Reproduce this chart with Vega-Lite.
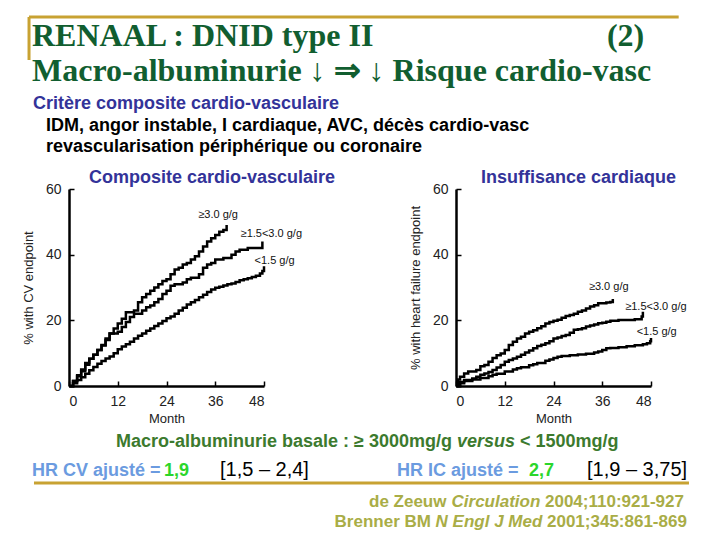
{
  "$schema": "https://vega.github.io/schema/vega-lite/v6.json",
  "padding": {"left": 22, "top": 0, "right": 0, "bottom": 0},
  "background": "white",
  "columns": 2,
  "bounds": "flush",
  "align": "each",
  "spacing": {"row": 29, "column": 192},
  "config": {
    "view": {"stroke": null},
    "axis": {
      "grid": false,
      "domainColor": "#000",
      "domainWidth": 2.5,
      "tickColor": "#000",
      "tickWidth": 1.5,
      "tickSize": -5,
      "labelFont": "Liberation Sans",
      "labelFontSize": 14,
      "labelColor": "#222",
      "labelPadding": 13,
      "titleFont": "Liberation Sans",
      "titleFontSize": 13,
      "titleFontWeight": "normal",
      "titleColor": "#222"
    },
    "axisY": {"titlePadding": 10},
    "axisX": {"titlePadding": 4}
  },
  "datasets": {
    "headerRules": [
      {"x": 4.17, "x2": 94.4, "y": 10.6, "y2": 10.6},
      {"x": 4.17, "x2": 4.17, "y": 10.6, "y2": 37.5}
    ],
    "headerLeft": [
      {"role": "title", "x": 4.58, "y": 28.75, "text": "RENAAL : DNID type II"},
      {"role": "title", "x": 4.58, "y": 50.6, "text": "Macro-albuminurie ↓ ⇒ ↓ Risque cardio-vasc"},
      {"role": "heading", "x": 4.72, "y": 68.1, "text": "Critère composite cardio-vasculaire"},
      {"role": "body", "x": 6.53, "y": 81.9, "text": "IDM, angor instable, I cardiaque, AVC, décès cardio-vasc"},
      {"role": "body", "x": 6.53, "y": 95, "text": "revascularisation périphérique ou coronaire"}
    ],
    "headerRight": [
      {"role": "title", "x": 84.44, "y": 28.75, "text": "(2)"}
    ],
    "footerRules": [
      {"x": 4.86, "x2": 95.83, "y": 54.4, "y2": 54.4}
    ],
    "footerLeft": [
      {"role": "macro", "x": 16.25, "y": 25.6, "text": "Macro-albuminurie basale : ≥ 3000mg/g"},
      {"role": "macroIt", "x": 63.61, "y": 25.6, "text": "versus"},
      {"role": "macro", "x": 72.36, "y": 25.6, "text": "< 1500mg/g"},
      {"role": "hrBlue", "x": 4.58, "y": 48.8, "text": "HR CV ajusté ="},
      {"role": "hrGreen", "x": 22.92, "y": 48.8, "text": "1,9"},
      {"role": "hrBlack", "x": 30.69, "y": 48.8, "text": "[1,5 – 2,4]"}
    ],
    "footerRight": [
      {"role": "hrBlue", "x": 55.28, "y": 48.8, "text": "HR IC ajusté ="},
      {"role": "hrGreen", "x": 73.61, "y": 48.8, "text": "2,7"},
      {"role": "hrBlack", "x": 81.67, "y": 48.8, "text": "[1,9 – 3,75]"},
      {"role": "cite", "x": 51.39, "y": 73.6, "text": "de Zeeuw"},
      {"role": "citeIt", "x": 62.85, "y": 73.6, "text": "Circulation"},
      {"role": "cite", "x": 75.83, "y": 73.6, "text": "2004;110:921-927"},
      {"role": "cite", "x": 46.61, "y": 89.6, "text": "Brenner BM"},
      {"role": "citeIt", "x": 60.64, "y": 89.6, "text": "N Engl J Med"},
      {"role": "cite", "x": 76.11, "y": 89.6, "text": "2001;345:861-869"}
    ],
    "cv": [
      {"group": "g3", "month": 0, "pct": 0}, {"group": "g3", "month": 1, "pct": 1.5}, {"group": "g3", "month": 2, "pct": 3.3}, {"group": "g3", "month": 3, "pct": 5}, {"group": "g3", "month": 4, "pct": 7}, {"group": "g3", "month": 5, "pct": 8.3}, {"group": "g3", "month": 6, "pct": 9.5}, {"group": "g3", "month": 7, "pct": 11}, {"group": "g3", "month": 8, "pct": 12.3}, {"group": "g3", "month": 9, "pct": 14.5}, {"group": "g3", "month": 10, "pct": 16}, {"group": "g3", "month": 11, "pct": 17.5}, {"group": "g3", "month": 12, "pct": 19}, {"group": "g3", "month": 13, "pct": 20.5}, {"group": "g3", "month": 14, "pct": 22.5}, {"group": "g3", "month": 16, "pct": 23}, {"group": "g3", "month": 17, "pct": 25.5}, {"group": "g3", "month": 18, "pct": 27}, {"group": "g3", "month": 19, "pct": 28}, {"group": "g3", "month": 20, "pct": 29}, {"group": "g3", "month": 21, "pct": 30}, {"group": "g3", "month": 22, "pct": 31}, {"group": "g3", "month": 23, "pct": 32}, {"group": "g3", "month": 24, "pct": 32.5}, {"group": "g3", "month": 25, "pct": 34}, {"group": "g3", "month": 26, "pct": 35.5}, {"group": "g3", "month": 27, "pct": 36}, {"group": "g3", "month": 28, "pct": 37}, {"group": "g3", "month": 29, "pct": 37.5}, {"group": "g3", "month": 30, "pct": 38.5}, {"group": "g3", "month": 31, "pct": 39.5}, {"group": "g3", "month": 32, "pct": 41}, {"group": "g3", "month": 33, "pct": 42.5}, {"group": "g3", "month": 34, "pct": 44}, {"group": "g3", "month": 35, "pct": 45}, {"group": "g3", "month": 36, "pct": 46}, {"group": "g3", "month": 37, "pct": 47}, {"group": "g3", "month": 38, "pct": 47.5}, {"group": "g3", "month": 38.8, "pct": 49},
      {"group": "g15", "month": 0, "pct": 0}, {"group": "g15", "month": 1, "pct": 1.5}, {"group": "g15", "month": 2, "pct": 3}, {"group": "g15", "month": 3, "pct": 4.5}, {"group": "g15", "month": 4, "pct": 6.5}, {"group": "g15", "month": 5, "pct": 8.3}, {"group": "g15", "month": 6, "pct": 9.5}, {"group": "g15", "month": 7, "pct": 11}, {"group": "g15", "month": 8, "pct": 12.5}, {"group": "g15", "month": 9, "pct": 14}, {"group": "g15", "month": 10, "pct": 16}, {"group": "g15", "month": 12, "pct": 16.5}, {"group": "g15", "month": 13, "pct": 18}, {"group": "g15", "month": 14, "pct": 19.5}, {"group": "g15", "month": 15, "pct": 21}, {"group": "g15", "month": 16, "pct": 22}, {"group": "g15", "month": 18, "pct": 23}, {"group": "g15", "month": 19, "pct": 24}, {"group": "g15", "month": 20, "pct": 24.5}, {"group": "g15", "month": 21, "pct": 25.5}, {"group": "g15", "month": 22, "pct": 26.5}, {"group": "g15", "month": 23, "pct": 28}, {"group": "g15", "month": 24, "pct": 29}, {"group": "g15", "month": 25, "pct": 30.5}, {"group": "g15", "month": 26, "pct": 31}, {"group": "g15", "month": 28, "pct": 31.5}, {"group": "g15", "month": 29, "pct": 32.5}, {"group": "g15", "month": 30, "pct": 33}, {"group": "g15", "month": 32, "pct": 34}, {"group": "g15", "month": 33, "pct": 36}, {"group": "g15", "month": 34, "pct": 37}, {"group": "g15", "month": 35, "pct": 37.5}, {"group": "g15", "month": 36, "pct": 38.5}, {"group": "g15", "month": 38, "pct": 39}, {"group": "g15", "month": 40, "pct": 40}, {"group": "g15", "month": 41, "pct": 41}, {"group": "g15", "month": 42, "pct": 41.5}, {"group": "g15", "month": 44, "pct": 42}, {"group": "g15", "month": 47.6, "pct": 44},
      {"group": "lt15", "month": 0, "pct": 0}, {"group": "lt15", "month": 1, "pct": 0.8}, {"group": "lt15", "month": 2, "pct": 1.8}, {"group": "lt15", "month": 3, "pct": 2.7}, {"group": "lt15", "month": 4, "pct": 3.7}, {"group": "lt15", "month": 5, "pct": 4.8}, {"group": "lt15", "month": 6, "pct": 5.8}, {"group": "lt15", "month": 7, "pct": 6.8}, {"group": "lt15", "month": 8, "pct": 7.6}, {"group": "lt15", "month": 9, "pct": 8.4}, {"group": "lt15", "month": 10, "pct": 9}, {"group": "lt15", "month": 11, "pct": 10}, {"group": "lt15", "month": 12, "pct": 11.2}, {"group": "lt15", "month": 13, "pct": 12}, {"group": "lt15", "month": 14, "pct": 12.7}, {"group": "lt15", "month": 15, "pct": 13.5}, {"group": "lt15", "month": 16, "pct": 14.5}, {"group": "lt15", "month": 17, "pct": 15.3}, {"group": "lt15", "month": 18, "pct": 16}, {"group": "lt15", "month": 19, "pct": 16.8}, {"group": "lt15", "month": 20, "pct": 17.5}, {"group": "lt15", "month": 21, "pct": 18.3}, {"group": "lt15", "month": 22, "pct": 19}, {"group": "lt15", "month": 23, "pct": 19.8}, {"group": "lt15", "month": 24, "pct": 20.6}, {"group": "lt15", "month": 25, "pct": 21.2}, {"group": "lt15", "month": 26, "pct": 22}, {"group": "lt15", "month": 27, "pct": 23}, {"group": "lt15", "month": 28, "pct": 23.8}, {"group": "lt15", "month": 29, "pct": 24.8}, {"group": "lt15", "month": 30, "pct": 25.5}, {"group": "lt15", "month": 31, "pct": 26.2}, {"group": "lt15", "month": 32, "pct": 27}, {"group": "lt15", "month": 33, "pct": 27.8}, {"group": "lt15", "month": 34, "pct": 28.6}, {"group": "lt15", "month": 35, "pct": 29.4}, {"group": "lt15", "month": 36, "pct": 29.9}, {"group": "lt15", "month": 37, "pct": 30.2}, {"group": "lt15", "month": 38, "pct": 30.6}, {"group": "lt15", "month": 39, "pct": 31}, {"group": "lt15", "month": 40, "pct": 31.2}, {"group": "lt15", "month": 41, "pct": 31.7}, {"group": "lt15", "month": 42, "pct": 32.2}, {"group": "lt15", "month": 43, "pct": 32.5}, {"group": "lt15", "month": 44, "pct": 32.8}, {"group": "lt15", "month": 45, "pct": 33.2}, {"group": "lt15", "month": 46, "pct": 33.6}, {"group": "lt15", "month": 47, "pct": 34.3}, {"group": "lt15", "month": 47.6, "pct": 35}, {"group": "lt15", "month": 48, "pct": 36.5}
    ],
    "hf": [
      {"group": "g3", "month": 0, "pct": 0}, {"group": "g3", "month": 0.5, "pct": 2}, {"group": "g3", "month": 1, "pct": 2.8}, {"group": "g3", "month": 2, "pct": 3.8}, {"group": "g3", "month": 3, "pct": 4.4}, {"group": "g3", "month": 5, "pct": 4.9}, {"group": "g3", "month": 6, "pct": 6}, {"group": "g3", "month": 7, "pct": 6.4}, {"group": "g3", "month": 8, "pct": 7.4}, {"group": "g3", "month": 9, "pct": 8.5}, {"group": "g3", "month": 10, "pct": 9.4}, {"group": "g3", "month": 11, "pct": 9.9}, {"group": "g3", "month": 12, "pct": 11}, {"group": "g3", "month": 13, "pct": 12.5}, {"group": "g3", "month": 14, "pct": 13.5}, {"group": "g3", "month": 15, "pct": 14.5}, {"group": "g3", "month": 16, "pct": 15}, {"group": "g3", "month": 17, "pct": 16}, {"group": "g3", "month": 18, "pct": 16.5}, {"group": "g3", "month": 19, "pct": 17}, {"group": "g3", "month": 20, "pct": 17.6}, {"group": "g3", "month": 21, "pct": 18.2}, {"group": "g3", "month": 22, "pct": 19}, {"group": "g3", "month": 23, "pct": 19.5}, {"group": "g3", "month": 24, "pct": 19.9}, {"group": "g3", "month": 25, "pct": 20.2}, {"group": "g3", "month": 26, "pct": 20.8}, {"group": "g3", "month": 27, "pct": 21.3}, {"group": "g3", "month": 28, "pct": 21.6}, {"group": "g3", "month": 29, "pct": 22}, {"group": "g3", "month": 30, "pct": 22.6}, {"group": "g3", "month": 31, "pct": 23}, {"group": "g3", "month": 32, "pct": 23.6}, {"group": "g3", "month": 33, "pct": 24.2}, {"group": "g3", "month": 34, "pct": 24.6}, {"group": "g3", "month": 35, "pct": 25.2}, {"group": "g3", "month": 37, "pct": 25.4}, {"group": "g3", "month": 38, "pct": 25.6}, {"group": "g3", "month": 38.6, "pct": 26.5},
      {"group": "g15", "month": 0, "pct": 0}, {"group": "g15", "month": 1, "pct": 1.2}, {"group": "g15", "month": 2, "pct": 1.8}, {"group": "g15", "month": 4, "pct": 2.3}, {"group": "g15", "month": 5, "pct": 2.8}, {"group": "g15", "month": 6, "pct": 3.4}, {"group": "g15", "month": 7, "pct": 3.8}, {"group": "g15", "month": 8, "pct": 4.3}, {"group": "g15", "month": 9, "pct": 4.9}, {"group": "g15", "month": 10, "pct": 5.6}, {"group": "g15", "month": 11, "pct": 6.4}, {"group": "g15", "month": 12, "pct": 7.4}, {"group": "g15", "month": 13, "pct": 7.9}, {"group": "g15", "month": 14, "pct": 8.4}, {"group": "g15", "month": 15, "pct": 8.9}, {"group": "g15", "month": 16, "pct": 9.5}, {"group": "g15", "month": 17, "pct": 10.2}, {"group": "g15", "month": 18, "pct": 10.8}, {"group": "g15", "month": 19, "pct": 11.5}, {"group": "g15", "month": 20, "pct": 12.2}, {"group": "g15", "month": 21, "pct": 12.6}, {"group": "g15", "month": 22, "pct": 13}, {"group": "g15", "month": 23, "pct": 13.6}, {"group": "g15", "month": 24, "pct": 14.5}, {"group": "g15", "month": 25, "pct": 14.8}, {"group": "g15", "month": 26, "pct": 15.2}, {"group": "g15", "month": 27, "pct": 15.5}, {"group": "g15", "month": 28, "pct": 16.2}, {"group": "g15", "month": 29, "pct": 17.1}, {"group": "g15", "month": 30, "pct": 17.3}, {"group": "g15", "month": 31, "pct": 17.6}, {"group": "g15", "month": 32, "pct": 18.1}, {"group": "g15", "month": 33, "pct": 18.4}, {"group": "g15", "month": 34, "pct": 18.7}, {"group": "g15", "month": 35, "pct": 19.1}, {"group": "g15", "month": 36, "pct": 19.3}, {"group": "g15", "month": 37, "pct": 19.6}, {"group": "g15", "month": 38, "pct": 19.9}, {"group": "g15", "month": 40, "pct": 20.1}, {"group": "g15", "month": 44, "pct": 20.3}, {"group": "g15", "month": 45.7, "pct": 21.2}, {"group": "g15", "month": 46, "pct": 22.6},
      {"group": "lt15", "month": 0, "pct": 0}, {"group": "lt15", "month": 1, "pct": 0.8}, {"group": "lt15", "month": 2, "pct": 1.5}, {"group": "lt15", "month": 4, "pct": 2}, {"group": "lt15", "month": 6, "pct": 2.4}, {"group": "lt15", "month": 8, "pct": 3}, {"group": "lt15", "month": 9, "pct": 3.4}, {"group": "lt15", "month": 10, "pct": 3.7}, {"group": "lt15", "month": 12, "pct": 4.4}, {"group": "lt15", "month": 14, "pct": 5}, {"group": "lt15", "month": 15, "pct": 5.4}, {"group": "lt15", "month": 16, "pct": 5.7}, {"group": "lt15", "month": 18, "pct": 6.3}, {"group": "lt15", "month": 19, "pct": 6.6}, {"group": "lt15", "month": 20, "pct": 7}, {"group": "lt15", "month": 22, "pct": 7.7}, {"group": "lt15", "month": 23, "pct": 8.1}, {"group": "lt15", "month": 24, "pct": 8.5}, {"group": "lt15", "month": 25, "pct": 8.9}, {"group": "lt15", "month": 26, "pct": 9.1}, {"group": "lt15", "month": 28, "pct": 9.4}, {"group": "lt15", "month": 30, "pct": 9.6}, {"group": "lt15", "month": 32, "pct": 9.8}, {"group": "lt15", "month": 34, "pct": 10.2}, {"group": "lt15", "month": 35, "pct": 10.5}, {"group": "lt15", "month": 36, "pct": 11}, {"group": "lt15", "month": 37, "pct": 11.5}, {"group": "lt15", "month": 38, "pct": 11.6}, {"group": "lt15", "month": 40, "pct": 11.8}, {"group": "lt15", "month": 42, "pct": 12.1}, {"group": "lt15", "month": 44, "pct": 12.4}, {"group": "lt15", "month": 46, "pct": 12.7}, {"group": "lt15", "month": 47, "pct": 13}, {"group": "lt15", "month": 47.8, "pct": 13.6}, {"group": "lt15", "month": 48, "pct": 14.6}
    ],
    "cvLabels": [
      {"label": "≥3.0 g/g", "month": 36.7, "pct": 52.1},
      {"label": "≥1.5<3.0 g/g", "month": 49.8, "pct": 46.2},
      {"label": "<1.5 g/g", "month": 50.6, "pct": 38.1}
    ],
    "hfLabels": [
      {"label": "≥3.0 g/g", "month": 37.6, "pct": 30.1},
      {"label": "≥1.5<3.0 g/g", "month": 49.2, "pct": 24},
      {"label": "<1.5 g/g", "month": 49.4, "pct": 16.3}
    ]
  },
  "concat": [
    {
      "width": 195,
      "height": 160,
      "encoding": {
        "x": {"field": "x", "type": "quantitative", "scale": {"domain": [0, 100], "range": [-70, 650], "nice": false, "zero": false}, "axis": null},
        "y": {"field": "y", "type": "quantitative", "scale": {"domain": [0, 100], "nice": false, "reverse": true}, "axis": null}
      },
      "layer": [
        {
          "data": {"name": "headerRules"},
          "mark": {"type": "rule", "color": "#c8a232", "strokeWidth": 3},
          "encoding": {"x2": {"field": "x2"}, "y2": {"field": "y2"}}
        },
        {
          "data": {"name": "headerLeft"},
          "transform": [{"filter": "datum.role === 'title'"}],
          "mark": {"type": "text", "font": "Liberation Serif", "fontWeight": "bold", "fontSize": 32, "color": "#115e30", "align": "left", "baseline": "alphabetic"},
          "encoding": {"text": {"field": "text"}}
        },
        {
          "data": {"name": "headerLeft"},
          "transform": [{"filter": "datum.role === 'heading'"}],
          "mark": {"type": "text", "font": "Liberation Sans", "fontWeight": "bold", "fontSize": 18, "color": "#333399", "align": "left", "baseline": "alphabetic"},
          "encoding": {"text": {"field": "text"}}
        },
        {
          "data": {"name": "headerLeft"},
          "transform": [{"filter": "datum.role === 'body'"}],
          "mark": {"type": "text", "font": "Liberation Sans", "fontWeight": "bold", "fontSize": 18, "color": "#000", "align": "left", "baseline": "alphabetic"},
          "encoding": {"text": {"field": "text"}}
        }
      ]
    },
    {
      "width": 195,
      "height": 160,
      "data": {"name": "headerRight"},
      "mark": {"type": "text", "font": "Liberation Serif", "fontWeight": "bold", "fontSize": 32, "color": "#115e30", "align": "left", "baseline": "alphabetic"},
      "encoding": {
        "x": {"field": "x", "type": "quantitative", "scale": {"domain": [0, 100], "range": [-457, 263], "nice": false, "zero": false}, "axis": null},
        "y": {"field": "y", "type": "quantitative", "scale": {"domain": [0, 100], "nice": false, "reverse": true}, "axis": null},
        "text": {"field": "text"}
      }
    },
    {
      "width": 195,
      "height": 197,
      "title": {"text": "Composite cardio-vasculaire", "anchor": "start", "frame": "group", "dx": 20, "dy": 5, "offset": 0, "font": "Liberation Sans", "fontSize": 18, "fontWeight": "bold", "color": "#333399"},
      "layer": [
        {
          "data": {"name": "cv"},
          "mark": {"type": "line", "interpolate": "step-after", "color": "#000", "strokeWidth": 2.5},
          "encoding": {
            "x": {"field": "month", "type": "quantitative", "scale": {"domain": [0, 48], "nice": false}, "axis": {"values": [0, 12, 24, 36, 48], "title": "Month"}},
            "y": {"field": "pct", "type": "quantitative", "scale": {"domain": [0, 60], "nice": false}, "axis": {"values": [0, 20, 40, 60], "title": "% with CV endpoint"}},
            "detail": {"field": "group"}
          }
        },
        {
          "data": {"name": "cvLabels"},
          "mark": {"type": "text", "font": "Liberation Sans", "fontSize": 11, "color": "#111"},
          "encoding": {
            "x": {"field": "month", "type": "quantitative"},
            "y": {"field": "pct", "type": "quantitative"},
            "text": {"field": "label"}
          }
        }
      ]
    },
    {
      "width": 195,
      "height": 197,
      "title": {"text": "Insuffisance cardiaque", "anchor": "start", "frame": "group", "dx": 25, "dy": 5, "offset": 0, "font": "Liberation Sans", "fontSize": 18, "fontWeight": "bold", "color": "#333399"},
      "layer": [
        {
          "data": {"name": "hf"},
          "mark": {"type": "line", "interpolate": "step-after", "color": "#000", "strokeWidth": 2.5},
          "encoding": {
            "x": {"field": "month", "type": "quantitative", "scale": {"domain": [0, 48], "nice": false}, "axis": {"values": [0, 12, 24, 36, 48], "title": "Month"}},
            "y": {"field": "pct", "type": "quantitative", "scale": {"domain": [0, 60], "nice": false}, "axis": {"values": [0, 20, 40, 60], "title": "% with heart failure endpoint"}},
            "detail": {"field": "group"}
          }
        },
        {
          "data": {"name": "hfLabels"},
          "mark": {"type": "text", "font": "Liberation Sans", "fontSize": 11, "color": "#111"},
          "encoding": {
            "x": {"field": "month", "type": "quantitative"},
            "y": {"field": "pct", "type": "quantitative"},
            "text": {"field": "label"}
          }
        }
      ]
    },
    {
      "width": 195,
      "height": 125,
      "encoding": {
        "x": {"field": "x", "type": "quantitative", "scale": {"domain": [0, 100], "range": [-70, 650], "nice": false, "zero": false}, "axis": null},
        "y": {"field": "y", "type": "quantitative", "scale": {"domain": [0, 100], "nice": false, "reverse": true}, "axis": null}
      },
      "layer": [
        {
          "data": {"name": "footerRules"},
          "mark": {"type": "rule", "color": "#c8a232", "strokeWidth": 3},
          "encoding": {"x2": {"field": "x2"}, "y2": {"field": "y2"}}
        },
        {
          "data": {"name": "footerLeft"},
          "transform": [{"filter": "datum.role === 'macro'"}],
          "mark": {"type": "text", "font": "Liberation Sans", "fontWeight": "bold", "fontSize": 18, "color": "#3c7a2e", "align": "left", "baseline": "alphabetic"},
          "encoding": {"text": {"field": "text"}}
        },
        {
          "data": {"name": "footerLeft"},
          "transform": [{"filter": "datum.role === 'macroIt'"}],
          "mark": {"type": "text", "font": "Liberation Sans", "fontWeight": "bold", "fontStyle": "italic", "fontSize": 18, "color": "#3c7a2e", "align": "left", "baseline": "alphabetic"},
          "encoding": {"text": {"field": "text"}}
        },
        {
          "data": {"name": "footerLeft"},
          "transform": [{"filter": "datum.role === 'hrBlue'"}],
          "mark": {"type": "text", "font": "Liberation Sans", "fontWeight": "bold", "fontSize": 18, "color": "#6b9be0", "align": "left", "baseline": "alphabetic"},
          "encoding": {"text": {"field": "text"}}
        },
        {
          "data": {"name": "footerLeft"},
          "transform": [{"filter": "datum.role === 'hrGreen'"}],
          "mark": {"type": "text", "font": "Liberation Sans", "fontWeight": "bold", "fontSize": 18, "color": "#2bd62b", "align": "left", "baseline": "alphabetic"},
          "encoding": {"text": {"field": "text"}}
        },
        {
          "data": {"name": "footerLeft"},
          "transform": [{"filter": "datum.role === 'hrBlack'"}],
          "mark": {"type": "text", "font": "Liberation Sans", "fontSize": 20, "color": "#000", "align": "left", "baseline": "alphabetic"},
          "encoding": {"text": {"field": "text"}}
        }
      ]
    },
    {
      "width": 195,
      "height": 125,
      "encoding": {
        "x": {"field": "x", "type": "quantitative", "scale": {"domain": [0, 100], "range": [-457, 263], "nice": false, "zero": false}, "axis": null},
        "y": {"field": "y", "type": "quantitative", "scale": {"domain": [0, 100], "nice": false, "reverse": true}, "axis": null}
      },
      "layer": [
        {
          "data": {"name": "footerRight"},
          "transform": [{"filter": "datum.role === 'hrBlue'"}],
          "mark": {"type": "text", "font": "Liberation Sans", "fontWeight": "bold", "fontSize": 18, "color": "#6b9be0", "align": "left", "baseline": "alphabetic"},
          "encoding": {"text": {"field": "text"}}
        },
        {
          "data": {"name": "footerRight"},
          "transform": [{"filter": "datum.role === 'hrGreen'"}],
          "mark": {"type": "text", "font": "Liberation Sans", "fontWeight": "bold", "fontSize": 18, "color": "#2bd62b", "align": "left", "baseline": "alphabetic"},
          "encoding": {"text": {"field": "text"}}
        },
        {
          "data": {"name": "footerRight"},
          "transform": [{"filter": "datum.role === 'hrBlack'"}],
          "mark": {"type": "text", "font": "Liberation Sans", "fontSize": 20, "color": "#000", "align": "left", "baseline": "alphabetic"},
          "encoding": {"text": {"field": "text"}}
        },
        {
          "data": {"name": "footerRight"},
          "transform": [{"filter": "datum.role === 'cite'"}],
          "mark": {"type": "text", "font": "Liberation Sans", "fontWeight": "bold", "fontSize": 17, "color": "#a9ad46", "align": "left", "baseline": "alphabetic"},
          "encoding": {"text": {"field": "text"}}
        },
        {
          "data": {"name": "footerRight"},
          "transform": [{"filter": "datum.role === 'citeIt'"}],
          "mark": {"type": "text", "font": "Liberation Sans", "fontWeight": "bold", "fontStyle": "italic", "fontSize": 17, "color": "#a9ad46", "align": "left", "baseline": "alphabetic"},
          "encoding": {"text": {"field": "text"}}
        }
      ]
    }
  ]
}
